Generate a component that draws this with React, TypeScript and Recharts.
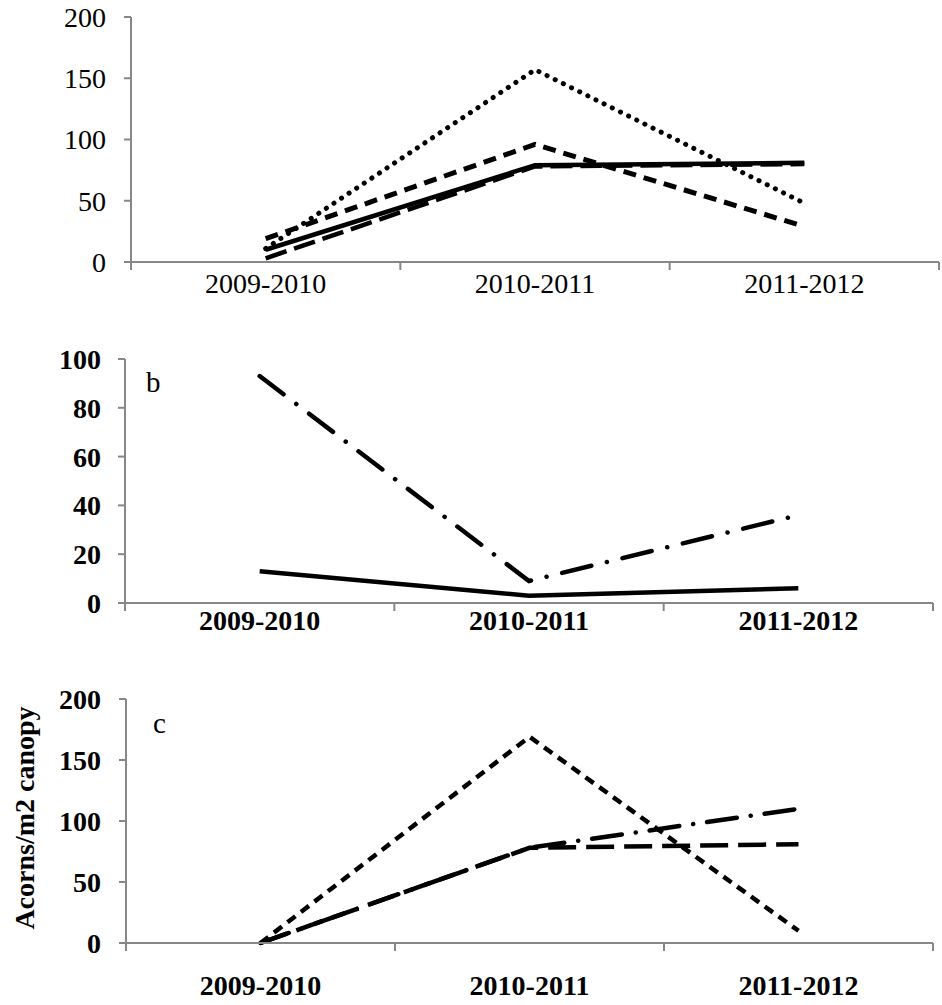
import React from "react";
import { LineChart, Line, XAxis, YAxis } from "recharts";

const seasons = ["2009-2010", "2010-2011", "2011-2012"];

// panel a (top)
const aSolid = [10, 79, 81];
const aDotted = [11, 157, 48];
const aDashed = [19, 96, 29];
const aLongDash = [3, 78, 80];

// panel b
const bSolid = [13, 3, 6];
const bDashDot = [93, 9, 36];

// panel c
const cShortDash = [0, 169, 10];
const cDashDot = [0, 78, 110];
const cLongDash = [0, 78, 81];

const aTicks = [0, 50, 100, 150, 200];
const bTicks = [0, 20, 40, 60, 80, 100];
const cTicks = [0, 50, 100, 150, 200];
const xTicks = [0, 0.5, 1, 1.5, 2, 2.5, 3];

const GREY = "#878787";
const FONT = "'Liberation Serif', 'Times New Roman', serif";

const rows = (series: Record<string, number[]>) =>
  seasons.map((s, i) => {
    const r: Record<string, any> = { x: i + 0.5, season: s };
    Object.keys(series).forEach((k) => (r[k] = series[k][i]));
    return r;
  });

const dataA = rows({ solid: aSolid, dotted: aDotted, dashed: aDashed, longDash: aLongDash });
const dataB = rows({ solid: bSolid, dashDot: bDashDot });
const dataC = rows({ shortDash: cShortDash, dashDot: cDashDot, longDash: cLongDash });

function BandTick(props: any) {
  const { x, y, payload, bold, dy } = props;
  const v = payload.value;
  if (Number.isInteger(v)) {
    return <line x1={x} x2={x} y1={y} y2={y + 8} stroke={GREY} strokeWidth={2} />;
  }
  return (
    <text
      x={x}
      y={y + dy}
      textAnchor="middle"
      dominantBaseline="central"
      fontFamily={FONT}
      fontSize={28}
      fontWeight={bold ? "bold" : "normal"}
      fill="#000"
    >
      {seasons[Math.floor(v)]}
    </text>
  );
}

function xAxis(height: number, bold: boolean, dy: number) {
  return (
    <XAxis
      dataKey="x"
      type="number"
      domain={[0, 3]}
      ticks={xTicks}
      interval={0}
      height={height}
      tickSize={0}
      tickMargin={0}
      tickLine={false}
      axisLine={{ stroke: GREY, strokeWidth: 2 }}
      tick={<BandTick bold={bold} dy={dy} />}
    />
  );
}

function yAxis(width: number, max: number, ticks: number[], bold: boolean, margin: number) {
  return (
    <YAxis
      type="number"
      domain={[0, max]}
      ticks={ticks}
      interval={0}
      width={width}
      tickSize={7}
      tickMargin={margin}
      axisLine={{ stroke: GREY, strokeWidth: 2 }}
      tickLine={{ stroke: GREY, strokeWidth: 2 }}
      tick={{ fill: "#000", fontSize: 28, fontFamily: FONT, fontWeight: bold ? "bold" : "normal" }}
    />
  );
}

const lineProps = { type: "linear" as const, stroke: "#000", strokeWidth: 4.5, dot: false, isAnimationActive: false };

export default function App() {
  return (
    <div style={{ position: "absolute", left: 0, top: 0, width: 942, height: 1005, background: "#fff" }}>
      <div style={{ position: "absolute", left: 0, top: 0 }}>
        <LineChart width={942} height={300} data={dataA} margin={{ top: 17, right: 3, left: 0, bottom: 0 }}>
          {xAxis(38, false, 21)}
          {yAxis(131, 200, aTicks, false, 18)}
          <Line {...lineProps} dataKey="longDash" strokeDasharray="22 8" />
          <Line {...lineProps} dataKey="solid" />
          <Line {...lineProps} dataKey="dashed" strokeWidth={5} strokeDasharray="13 8" />
          <Line {...lineProps} dataKey="dotted" strokeWidth={5} strokeLinecap="round" strokeDasharray="0.1 9" />
        </LineChart>
      </div>
      <div style={{ position: "absolute", left: 0, top: 300 }}>
        <LineChart width={942} height={340} data={dataB} margin={{ top: 59, right: 9, left: 0, bottom: 0 }}>
          {xAxis(37, true, 17)}
          {yAxis(125, 100, bTicks, true, 17)}
          <Line {...lineProps} dataKey="solid" />
          <Line {...lineProps} dataKey="dashDot" strokeLinecap="round" strokeDasharray="30 16 0.1 16" />
        </LineChart>
        <div style={{ position: "absolute", left: 146, top: 66, fontFamily: FONT, fontSize: 29 }}>b</div>
      </div>
      <div style={{ position: "absolute", left: 0, top: 640 }}>
        <LineChart width={942} height={365} data={dataC} margin={{ top: 59, right: 9, left: 0, bottom: 0 }}>
          {xAxis(62, true, 42)}
          {yAxis(126, 200, cTicks, true, 18)}
          <Line {...lineProps} dataKey="longDash" strokeDasharray="28 10" />
          <Line {...lineProps} dataKey="dashDot" strokeLinecap="round" strokeDasharray="30 14 0.1 14" />
          <Line {...lineProps} dataKey="shortDash" strokeDasharray="10 7" />
        </LineChart>
        <div style={{ position: "absolute", left: 153, top: 67, fontFamily: FONT, fontSize: 29 }}>c</div>
        <div
          style={{
            position: "absolute",
            left: 25,
            top: 178,
            transform: "translate(-50%, -50%) rotate(-90deg)",
            fontFamily: FONT,
            fontSize: 28,
            fontWeight: "bold",
            whiteSpace: "nowrap",
          }}
        >
          Acorns/m2 canopy
        </div>
      </div>
    </div>
  );
}
